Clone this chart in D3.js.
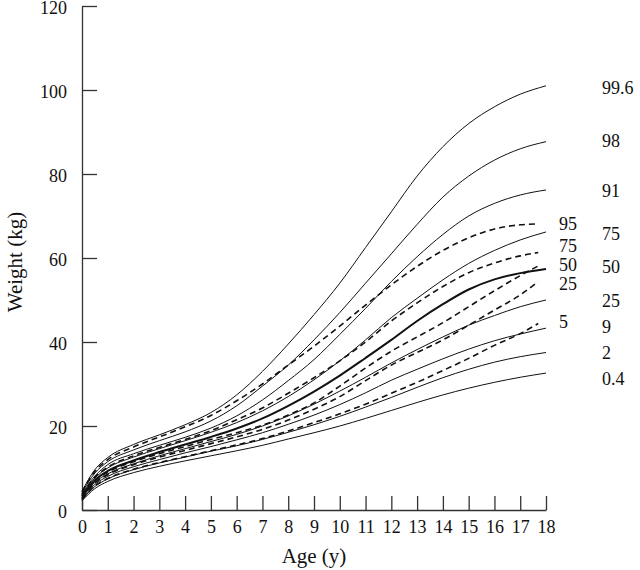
<!DOCTYPE html>
<html>
<head>
<meta charset="utf-8">
<script src="https://d3js.org/d3.v7.min.js"></script>
<style>
  body { margin: 0; background: #fff; }
  svg text { font-family: "Liberation Serif", "Times New Roman", serif; fill: #111; }
  .axis path, .axis line { stroke: #333; stroke-width: 1.3; }
  .axis text { font-size: 18px; }
  path.solid { fill: none; stroke: #111; stroke-width: 1; }
  path.solid.median { stroke-width: 2; }
  path.dashed { fill: none; stroke: #111; stroke-width: 1.6; stroke-dasharray: 6 4; }
  text.lab { font-size: 18px; }
  text.title { font-size: 21px; }
</style>
</head>
<body>
<svg id="chart" width="640" height="570"></svg>
<script>
  var ages = [0, 0.5, 1, 2, 3, 4, 5, 6, 7, 8, 9, 10, 11, 12, 13, 14, 15, 16, 17, 18];
  var dashAges = [0, 0.5, 1, 2, 3, 4, 5, 6, 7, 8, 9, 10, 11, 12, 13, 14, 15, 16, 17, 17.7];

  // solid centile curves (kg)
  var solidNames = ['99.6', '98', '91', '75', '50', '25', '9', '2', '0.4'];
  var solidValues = [
    [4.5, 9.6, 12.5, 15.6, 17.9, 20.3, 23.2, 27.4, 33, 39.5, 46.5, 54, 62.5, 71, 79.5, 86.5, 92, 96, 99, 101],
    [4.2, 8.8, 11.5, 14.3, 16.5, 18.6, 21.2, 24.8, 29.5, 34.5, 40.5, 47, 54, 61, 68, 74.5, 79.5, 83.3, 86, 87.7],
    [3.9, 8.1, 10.8, 13.4, 15.4, 17.3, 19.5, 22.4, 26.2, 30.8, 35.8, 41.8, 48, 54.4, 60.3, 65.6, 70, 73, 75, 76.2],
    [3.6, 7.6, 10, 12.6, 14.6, 16.5, 18.5, 20.8, 23.6, 27, 31, 35.5, 40.5, 45.8, 50.4, 54.8, 58.7, 61.8, 64.3, 66.2],
    [3.3, 7.1, 9.3, 11.8, 13.8, 15.6, 17.4, 19.4, 21.8, 24.8, 28.2, 32, 36.2, 40.5, 45, 49, 52.5, 54.9, 56.4, 57.4],
    [3.0, 6.6, 8.6, 11, 12.9, 14.6, 16.3, 18, 20, 22.4, 25.2, 28.3, 31.6, 35, 38.2, 41.2, 44, 46.3, 48.4, 50],
    [2.7, 6.1, 8, 10.3, 12, 13.6, 15.1, 16.7, 18.4, 20.4, 22.6, 25.1, 27.9, 30.9, 33.5, 36, 38.3, 40.3, 41.9, 43.3],
    [2.45, 5.6, 7.4, 9.6, 11.2, 12.6, 14, 15.3, 16.8, 18.5, 20.3, 22.3, 24.5, 26.8, 29.2, 31.5, 33.5, 35.2, 36.5, 37.5],
    [2.2, 5.1, 6.8, 8.9, 10.4, 11.7, 12.9, 14.1, 15.4, 16.9, 18.4, 20, 21.8, 23.7, 25.6, 27.4, 29, 30.4, 31.6, 32.6]
  ];
  // where each right-hand label sits (kg)
  var solidLabelAt = [100.5, 87.9, 76, 65.7, 57.9, 49.8, 43.6, 37.4, 31.2];

  // dashed centile curves (kg)
  var dashNames = ['95', '75', '50', '25', '5'];
  var dashValues = [
    [4.3, 9.2, 12, 15, 17.4, 19.8, 22.5, 26, 30, 34.5, 39, 43.8, 48.8, 53.6, 58, 61.8, 64.8, 66.9, 67.9, 68.1],
    [3.7, 7.8, 10.2, 12.9, 14.9, 16.8, 18.9, 21.5, 24.3, 27.8, 31.5, 35.5, 40, 45, 49.3, 53.2, 56.5, 58.8, 60.5, 61.3],
    [3.2, 6.9, 9, 11.5, 13.4, 15.1, 16.8, 18.4, 20.2, 22.6, 25.5, 29.5, 33.8, 37.8, 41.2, 44.6, 48.4, 52.2, 55.8, 58.1],
    [2.9, 6.4, 8.4, 10.8, 12.6, 14.2, 15.8, 17.4, 19.2, 21.4, 24, 27, 30.8, 34.5, 37.5, 40.5, 44, 47.6, 51.2, 54.4],
    [2.5, 5.7, 7.5, 9.7, 11.3, 12.7, 14.1, 15.5, 17, 18.8, 20.8, 22.9, 25.2, 27.8, 30.4, 33.2, 36.1, 39.2, 42, 44.4]
  ];
  var dashLabelAt = [68.1, 62.9, 58.3, 53.8, 44.8];

  var xTicks = d3.range(0, 19);
  var yTicks = [0, 20, 40, 60, 80, 100, 120];

  var svg = d3.select('#chart');
  var x = d3.scaleLinear().domain([0, 18]).range([82, 546]);
  var y = d3.scaleLinear().domain([0, 120]).range([510, 6]);

  var line = function(xs) {
    return d3.line()
      .x(function(d, i) { return x(xs[i]); })
      .y(function(d) { return y(d); })
      .curve(d3.curveMonotoneX);
  };

  // axes
  svg.append('g')
    .attr('class', 'axis')
    .attr('transform', 'translate(0,510)')
    .call(d3.axisBottom(x).tickValues(xTicks).tickSizeInner(-14).tickSizeOuter(0).tickPadding(10));
  svg.append('g')
    .attr('class', 'axis')
    .attr('transform', 'translate(82,0)')
    .call(d3.axisLeft(y).tickValues(yTicks).tickSizeInner(-15).tickSizeOuter(0).tickPadding(15))
    .selectAll('text')
      .attr('dy', '0.4em');

  // curves
  svg.selectAll('path.solid')
      .data(solidValues)
    .enter().append('path')
      .attr('class', function(d, i) { return solidNames[i] === '50' ? 'solid median' : 'solid'; })
      .attr('d', line(ages));

  svg.selectAll('path.dashed')
      .data(dashValues)
    .enter().append('path')
      .attr('class', 'dashed')
      .attr('d', line(dashAges));

  // centile labels
  svg.selectAll('text.slab')
      .data(solidNames)
    .enter().append('text')
      .attr('class', 'lab slab')
      .attr('x', 602)
      .attr('y', function(d, i) { return y(solidLabelAt[i]); })
      .attr('dy', '0.35em')
      .text(function(d) { return d; });

  svg.selectAll('text.dlab')
      .data(dashNames)
    .enter().append('text')
      .attr('class', 'lab dlab')
      .attr('x', 559)
      .attr('y', function(d, i) { return y(dashLabelAt[i]); })
      .attr('dy', '0.35em')
      .text(function(d) { return d; });

  // axis titles
  svg.append('text')
    .attr('class', 'title')
    .attr('x', 314)
    .attr('y', 563)
    .attr('text-anchor', 'middle')
    .text('Age (y)');

  svg.append('text')
    .attr('class', 'title')
    .attr('transform', 'translate(22,262) rotate(-90)')
    .attr('text-anchor', 'middle')
    .text('Weight (kg)');
</script>
</body>
</html>
